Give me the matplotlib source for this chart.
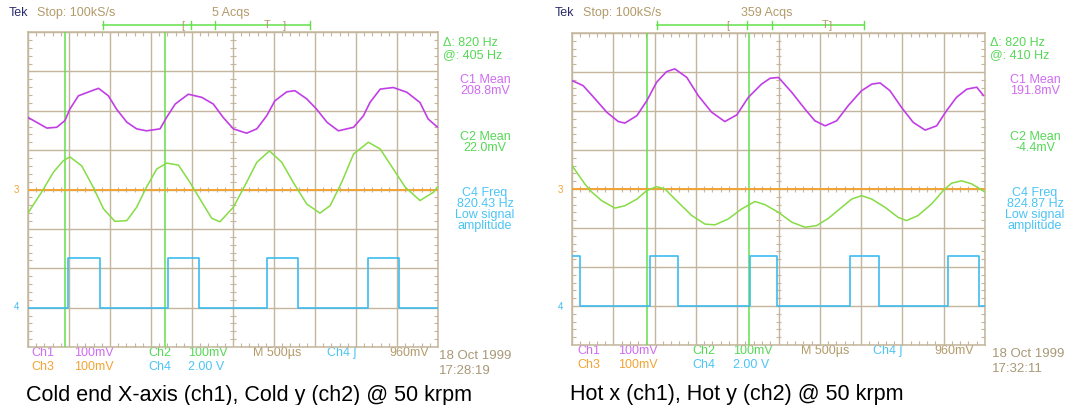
import matplotlib
matplotlib.use("Agg")
import matplotlib.pyplot as plt
import numpy as np

# =========================
# Readings off the two scope screens (units: divisions, x 0..10, y -4..4)
# =========================
# cold end screen
cold_ch1_t = [0.00, 0.46, 0.70, 0.90, 1.02, 1.23, 1.51, 1.72, 1.96, 2.16,
              2.41, 2.65, 2.89, 3.22, 3.38, 3.59, 3.91, 4.24, 4.52, 4.76,
              5.01, 5.33, 5.58, 5.82, 6.02, 6.31, 6.51, 6.80, 7.04, 7.29,
              7.57, 7.94, 8.18, 8.34, 8.59, 8.91, 9.24, 9.56, 9.76, 9.98]
cold_ch1_v = [1.83, 1.56, 1.58, 1.75, 2.04, 2.38, 2.49, 2.57, 2.38, 2.04,
              1.71, 1.54, 1.49, 1.54, 1.83, 2.17, 2.42, 2.34, 2.17, 1.83,
              1.54, 1.43, 1.54, 1.87, 2.25, 2.48, 2.51, 2.30, 2.04, 1.71,
              1.49, 1.58, 1.87, 2.21, 2.55, 2.59, 2.47, 2.21, 1.79, 1.59]
cold_ch2_t = [0.01, 0.33, 0.62, 0.86, 1.02, 1.31, 1.59, 1.84, 2.12, 2.41,
              2.65, 2.89, 3.14, 3.38, 3.67, 3.95, 4.24, 4.48, 4.68, 5.01,
              5.33, 5.58, 5.89, 6.19, 6.47, 6.80, 7.12, 7.37, 7.65, 7.94,
              8.30, 8.59, 8.91, 9.20, 9.56, 9.89, 9.98]
cold_ch2_v = [-0.58, -0.07, 0.44, 0.73, 0.83, 0.60, 0.06, -0.49, -0.81, -0.79,
              -0.45, 0.06, 0.52, 0.67, 0.62, 0.18, -0.32, -0.73, -0.82, -0.45,
              0.18, 0.69, 0.98, 0.69, 0.18, -0.37, -0.60, -0.41, 0.18, 0.90,
              1.20, 1.03, 0.52, 0.06, -0.28, -0.07, 0.06]
cold_ch3_level = 0.0
cold_ch4_edges = [0.98, 1.75, 3.41, 4.16, 5.84, 6.59, 8.29, 9.04]
cold_ch4_low, cold_ch4_high, cold_ch4_start_high = -3.0, -1.75, False
cold_cursors = [0.90, 3.34]

# hot end screen
hot_ch1_t = [0.00, 0.27, 0.56, 0.84, 1.12, 1.28, 1.57, 1.81, 2.05, 2.29,
             2.49, 2.78, 3.06, 3.38, 3.70, 3.99, 4.27, 4.59, 4.80, 5.00,
             5.32, 5.64, 5.88, 6.13, 6.41, 6.69, 7.01, 7.26, 7.46, 7.70,
             7.98, 8.26, 8.55, 8.83, 9.07, 9.31, 9.56, 9.80, 9.96]
hot_ch1_v = [2.78, 2.65, 2.31, 1.97, 1.73, 1.69, 1.88, 2.26, 2.74, 3.01,
             3.08, 2.86, 2.39, 1.97, 1.73, 1.90, 2.35, 2.69, 2.84, 2.86,
             2.48, 2.05, 1.75, 1.62, 1.75, 2.14, 2.52, 2.69, 2.72, 2.52,
             2.09, 1.71, 1.51, 1.62, 2.01, 2.35, 2.56, 2.61, 2.40]
hot_ch2_t = [0.00, 0.31, 0.48, 0.72, 1.04, 1.28, 1.57, 1.81, 2.05, 2.25,
             2.57, 2.90, 3.22, 3.46, 3.78, 4.11, 4.43, 4.67, 5.00, 5.32,
             5.64, 5.92, 6.21, 6.53, 6.77, 7.01, 7.26, 7.58, 7.90, 8.10,
             8.38, 8.71, 8.99, 9.19, 9.44, 9.68, 9.88, 10.0]
hot_ch2_v = [0.60, 0.13, -0.08, -0.30, -0.49, -0.43, -0.26, -0.04, 0.06, 0.00,
             -0.34, -0.68, -0.90, -0.92, -0.77, -0.51, -0.32, -0.40, -0.60, -0.85,
             -0.98, -0.94, -0.75, -0.47, -0.26, -0.17, -0.26, -0.47, -0.73, -0.81,
             -0.68, -0.38, -0.04, 0.15, 0.21, 0.13, 0.00, -0.08]
hot_ch3_level = 0.0
hot_ch4_edges = [0.20, 1.89, 2.57, 4.31, 4.97, 6.73, 7.43, 9.10, 9.85]
hot_ch4_low, hot_ch4_high, hot_ch4_start_high = -3.0, -1.71, True
hot_cursors = [1.82, 4.29]

# screen texts
cold_meas = ["C1 Mean", "208.8mV", "C2 Mean", "22.0mV",
             "C4 Freq", "820.43 Hz", "Low signal", "amplitude"]
hot_meas = ["C1 Mean", "191.8mV", "C2 Mean", "-4.4mV",
            "C4 Freq", "824.87 Hz", "Low signal", "amplitude"]
cold_cursor_txt = ["Δ: 820 Hz", "@: 405 Hz"]
hot_cursor_txt = ["Δ: 820 Hz", "@: 410 Hz"]
cold_acqs, hot_acqs = "5 Acqs", "359 Acqs"
cold_stamp = ["18 Oct 1999", "17:28:19"]
hot_stamp = ["18 Oct 1999", "17:32:11"]
cold_caption = "Cold end X-axis (ch1), Cold y (ch2) @ 50 krpm"
hot_caption = "Hot x (ch1), Hot y (ch2) @ 50 krpm"

# colours
MAG, MAG_T = "#c13ee6", "#cf6cf0"
GRN, GRN_C, GRN_T = "#86dc44", "#62e04a", "#55d855"
ORG = "#f2a435"
CYN, CYN_T = "#3cbcf0", "#4cc4f4"
TAN = "#b39a6a"
NAVY = "#2c2c6c"
GRID = "#c4b69c"
DATE = "#a89878"

SCOPE_FONT = ["Liberation Sans", "DejaVu Sans"]
W, H = 1075, 406

fig = plt.figure(figsize=(W / 100, H / 100), dpi=100)
bg = fig.add_axes([0, 0, 1, 1])
bg.set_xlim(0, W)
bg.set_ylim(H, 0)
bg.axis("off")


def txt(x, y, s, c, size=9, ha="left", fam=SCOPE_FONT, **kw):
    bg.text(x, y, s, color=c, fontsize=size, ha=ha, va="center", family=fam, **kw)


def square(edges, lo, hi, start_high):
    t = [0.0] + list(edges) + [10.0]
    lv = []
    state = start_high
    for _ in range(len(t) - 1):
        lv.append(hi if state else lo)
        state = not state
    lv.append(lv[-1])
    return t, lv


def screen(box, ch1, ch2, ch3, ch4, cursors):
    l, t, r, b = box
    ax = fig.add_axes([l / W, 1 - b / H, (r - l) / W, (b - t) / H])
    ax.set_xlim(0, 10)
    ax.set_ylim(-4, 4)
    ax.set_xticks(range(11))
    ax.set_yticks(range(-4, 5))
    ax.set_xticks(np.arange(0, 10.01, 0.2), minor=True)
    ax.set_yticks(np.arange(-4, 4.01, 0.2), minor=True)
    ax.tick_params(which="major", length=0, labelbottom=False, labelleft=False)
    ax.tick_params(which="minor", direction="in", length=3, width=0.8, color=GRID,
                   top=True, right=True)
    ax.grid(True, which="major", color=GRID, lw=1.0)
    for s in ax.spines.values():
        s.set_color(GRID)
        s.set_linewidth(1.1)
    # centre-line ticks
    ax.vlines(np.arange(0, 10.01, 0.2), -0.07, 0.07, color=GRID, lw=0.8)
    ax.hlines(np.arange(-4, 4.01, 0.2), 4.93, 5.07, color=GRID, lw=0.8)

    for c in cursors:
        ax.axvline(c, color=GRN_C, lw=1.1, zorder=3)
    ax.axhline(ch3, color=ORG, lw=1.4, zorder=4)
    ax.plot(*ch2, color=GRN, lw=1.1, zorder=5)
    ax.plot(*ch1, color=MAG, lw=1.2, zorder=5)
    st, sv = ch4
    ax.step(st, sv, where="post", color=CYN, lw=1.2, zorder=5)
    return ax


cold_box = (28, 33, 438, 348)
hot_box = (572, 34, 985, 346)
screen(cold_box, (cold_ch1_t, cold_ch1_v), (cold_ch2_t, cold_ch2_v), cold_ch3_level,
       square(cold_ch4_edges, cold_ch4_low, cold_ch4_high, cold_ch4_start_high),
       cold_cursors)
screen(hot_box, (hot_ch1_t, hot_ch1_v), (hot_ch2_t, hot_ch2_v), hot_ch3_level,
       square(hot_ch4_edges, hot_ch4_low, hot_ch4_high, hot_ch4_start_high),
       hot_cursors)


def decorate(x0, box, acqs, brk, cur_txt, meas, meas_cx, stamp, caption, cap_y,
             cols, gates):
    l, t, r, b = box
    # header
    txt(x0, 13, "Tek", NAVY)
    txt(x0 + 28, 13, "Stop: 100kS/s", TAN)
    txt(brk["acq"], 13, acqs, TAN)
    bg.plot([brk["a"], brk["b"]], [26, 26], color=GRN_C, lw=1.1)
    for xx in (brk["a"], brk["b"], brk["g1"], brk["g2"]):
        bg.plot([xx, xx], [22, 30], color=GRN_C, lw=1.0)
    txt(brk["lb"], 26, "[", TAN, size=8)
    txt(brk["T"], 25, "T", TAN, size=8, ha="center")
    txt(brk["rb"], 26, "]", TAN, size=8)
    # cursor readout
    txt(r + 5, 43, cur_txt[0], GRN_T)
    txt(r + 5, 55, cur_txt[1], GRN_T)
    mc = [MAG_T, MAG_T, GRN_T, GRN_T, CYN_T, CYN_T, CYN_T, CYN_T]
    my = [80, 91, 137, 148, 193, 204, 215, 226]
    for s, c, yy in zip(meas, mc, my):
        txt(meas_cx, yy, s, c, ha="center")
    # ground / gate markers
    txt(l - 14, 190, "3", ORG, size=7)
    txt(l - 14, 307, "4", CYN, size=7)
    txt(r - 9, 289, "◁", CYN, size=6)
    gx = gates
    txt(gx, 101, "T", MAG, size=7, ha="center")
    txt(gx, 137, "T", GRN, size=7, ha="center")
    txt(gx, 186, "T", ORG, size=7, ha="center")
    txt(gx, 252, "T", CYN, size=7, ha="center")
    # footer
    xs = cols
    txt(xs[0], b + 5, "Ch1", MAG_T)
    txt(xs[1], b + 5, "100mV", MAG_T)
    txt(xs[2], b + 5, "Ch2", GRN_T)
    txt(xs[3], b + 5, "100mV", GRN_T)
    txt(xs[4], b + 5, "M 500µs", TAN)
    txt(xs[5], b + 5, "Ch4 ʃ", CYN_T)
    txt(xs[6], b + 5, "960mV", TAN)
    txt(xs[0], b + 19, "Ch3", ORG)
    txt(xs[1], b + 19, "100mV", ORG)
    txt(xs[2], b + 19, "Ch4", CYN_T)
    txt(xs[3], b + 19, "2.00 V", CYN_T)
    txt(xs[7], b + 8, stamp[0], DATE, size=9.5)
    txt(xs[7], b + 23, stamp[1], DATE, size=9.5)
    txt(l - 2, cap_y, caption, "black", size=15.5, fam=["Liberation Sans", "DejaVu Sans"])


decorate(9, cold_box, cold_acqs,
         dict(acq=212, a=103, b=310, g1=191, g2=215, lb=181, T=267, rb=283),
         cold_cursor_txt, cold_meas, 485, cold_stamp, cold_caption, 396,
         [31, 74, 148, 188, 253, 327, 389, 439], 369)
decorate(555, hot_box, hot_acqs,
         dict(acq=741, a=657, b=864, g1=747, g2=772, lb=726, T=825, rb=829),
         hot_cursor_txt, hot_meas, 1035, hot_stamp, hot_caption, 395,
         [577, 618, 692, 733, 801, 873, 934, 992], 946)

fig.savefig("out.png", dpi=100)
